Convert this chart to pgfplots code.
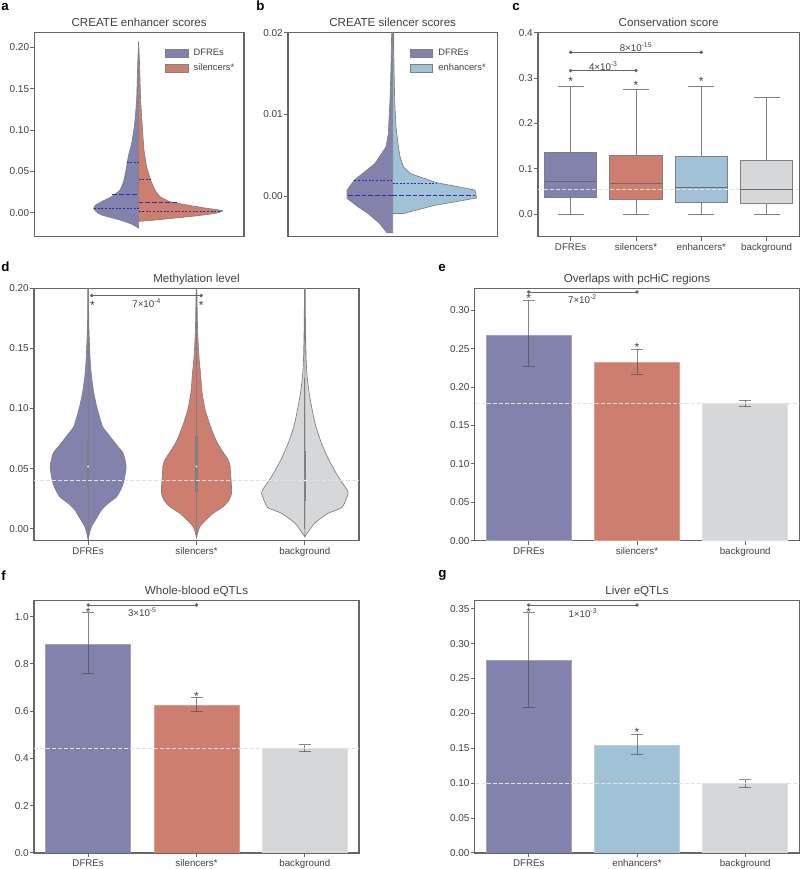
\documentclass[border=0pt]{standalone}
\usepackage{fontspec}
\setmainfont{Liberation Sans}
\usepackage{pgfplots}
\usepackage{pgfplotstable}
\pgfplotsset{compat=1.18}

\definecolor{cdfre}{HTML}{8382AC}
\definecolor{csil}{HTML}{CE7E6F}
\definecolor{cenh}{HTML}{A1C2D6}
\definecolor{cbg}{HTML}{D6D7D9}
\definecolor{edge}{HTML}{808080}
\definecolor{frame}{HTML}{666666}
\definecolor{txt}{HTML}{404040}
\definecolor{inner}{HTML}{2B2BB0}
\definecolor{hl}{HTML}{E2E2E2}

% half-width in picture units, y in data units
\pgfplotstableread{
y w
-0.0186 0
-0.0137 22
-0.0089 56
-0.0028 111
0.0015 128
0.0053 135
0.0095 128
0.0133 111
0.0194 81
0.0275 56
0.0396 44
0.0558 36
0.0679 31
0.0840 21
0.1042 13
0.1366 6
0.1770 3
0.2073 0
}\adfre
\pgfplotstableread{
y w
-0.0105 0
-0.0097 29
-0.0069 100
-0.0040 170
-0.0008 230
0.0024 252
0.0053 204
0.0093 144
0.0133 94
0.0194 64
0.0275 49
0.0396 36
0.0558 24
0.0760 16
0.1042 11
0.1366 6
0.1770 3
0.2073 0
}\asil
\pgfplotstableread{
y w
-0.00451 0
-0.00451 17
-0.00333 40
-0.00211 75
-0.00130 105
-0.00028 137
0.00073 137
0.00195 115
0.00398 53
0.00602 20
0.00764 13
0.01171 8
0.01577 5
0.02000 3
0.02000 0
}\bdfre
\pgfplotstableread{
y w
-0.00215 0
-0.00215 32
-0.00118 122
-0.00024 252
0.00073 247
0.00163 132
0.00276 52
0.00358 32
0.00480 22
0.00642 16
0.00846 10
0.01171 6
0.01577 4
0.02000 3
0.02000 0
}\benh
\pgfplotstableread{
y w
-0.0094 0
-0.0039 4
0.0017 10
0.0100 28
0.0156 40
0.0211 60
0.0267 86
0.0350 102
0.0406 108
0.0517 114
0.0628 105
0.0697 85
0.0794 58
0.0850 43
0.1000 27
0.1128 17
0.1267 10
0.1406 6
0.1683 2
0.2000 1
0.2000 0
}\ddfre
\pgfplotstableread{
y w
-0.0081 0
-0.0039 3
0.0017 10
0.0072 28
0.0128 50
0.0183 80
0.0239 98
0.0294 105
0.0350 105
0.0461 102
0.0517 101
0.0572 95
0.0656 75
0.0739 58
0.0850 42
0.0989 26
0.1128 17
0.1294 12
0.1406 8
0.1544 5
0.1683 3
0.2000 1
0.2000 0
}\dsil
\pgfplotstableread{
y w
-0.0067 0
0.0044 29
0.0128 70
0.0178 112
0.0294 130
0.0322 127
0.0433 100
0.0572 72
0.0711 50
0.0850 33
0.0989 22
0.1128 13
0.1267 7
0.1406 4
0.1683 2
0.2000 1
0.2000 0
}\dbg

\pgfplotsset{
  panel/.style={
    scale only axis,
    anchor=north west,
    axis line style={draw=frame,line width=1pt},
    tick style={draw=frame,line width=0.7pt},
    major tick length=3pt,
    tick align=outside,
    xtick pos=bottom,
    ytick pos=left,
    clip=true,
    every axis title shift=0pt,
    title style={anchor=base,yshift=4.5pt,inner sep=0pt,text=txt,font=\fontsize{8.7}{10}\selectfont},
    tick label style={text=txt,font=\fontsize{7.5}{9}\selectfont,inner sep=0.7pt},
    y tick label style={/pgf/number format/assume math mode=true,/pgf/number format/fixed,/pgf/number format/fixed zerofill},
    x tick label style={text height=1.5ex,text depth=0.3ex,yshift=1.6pt,font=\fontsize{7.3}{9}\selectfont},
    scaled y ticks=false,
    legend cell align=left,
    legend image code/.code={\fill[##1] (0pt,-3pt) rectangle (15pt,3pt);},
    legend style={draw=none,fill=none,anchor=north west,font=\fontsize{7}{8.5}\selectfont,text=txt,
      inner sep=0pt,row sep=1pt,column sep=2pt},
  },
  vio/.style={fill=#1,draw=edge,line width=0.5pt,smooth,tension=0.35},
  brk/.style={draw=frame,line width=0.5pt,mark=*,mark size=1.05pt,mark options={fill=frame,draw=frame,solid}},
  hline/.style={draw=hl,line width=0.6pt,dash pattern=on 3pt off 1.5pt,forget plot},
  bar/.style={ybar,bar width=0.785,bar shift=0pt,draw=#1!75!white,line width=0.5pt,fill=#1,
    error bars/.cd,y dir=both,y explicit,
    error bar style={draw=black!70,line width=0.75pt,opacity=0.65},
    error mark options={draw=black!70,line width=0.75pt,opacity=0.65,mark size=4.5pt,rotate=90}},
  box/.style={fill=#1,draw=edge,line width=0.7pt},
  wh/.style={draw=edge,line width=0.7pt},
  med/.style={draw=black!58,line width=0.7pt},
  q/.style={draw=inner,line width=0.55pt,dash pattern=on 1.5pt off 1.2pt},
  m/.style={draw=inner,line width=0.55pt,dash pattern=on 3.5pt off 1.5pt},
  stick/.style={draw=edge,line width=0.7pt},
  ibox/.style={draw=edge,line width=2pt},
  mdot/.style={only marks,white,mark=*,mark size=0.45pt},
}
\newcommand{\ann}{\fontsize{7.3}{9}\selectfont\color{txt}}
\newcommand{\st}{\fontsize{9}{9}\selectfont\color{txt}*}
\tikzset{letter/.style={anchor=base west,inner sep=0pt,font=\fontsize{10}{12}\selectfont\bfseries,text=black},
  star/.style={inner sep=0pt,yshift=-1.9pt}}

\begin{document}
\begin{tikzpicture}
\useasboundingbox (0,0) rectangle (600pt,-651.75pt);

\node[letter] at (0.8pt,-8pt) {a};
\node[letter] at (192pt,-8pt) {b};
\node[letter] at (384pt,-8pt) {c};
\node[letter] at (0.8pt,-203.8pt) {d};
\node[letter] at (328.5pt,-203.8pt) {e};
\node[letter] at (0.8pt,-435.5pt) {f};
\node[letter] at (328.5pt,-433.2pt) {g};

% a
\begin{axis}[panel,at={(25.7pt,-24.5pt)},width=157.3pt,height=153pt,
  title={CREATE enhancer scores},
  xmin=-313,xmax=316,ymin=-0.0291,ymax=0.218,
  xtick=\empty,ytick={0,0.05,0.1,0.15,0.2},
  y tick label style={/pgf/number format/precision=2},
  legend style={at={(0.622,0.935)}}]
\addplot[vio=cdfre,area legend] table[x expr=-\thisrow{w},y=y] {\adfre} --cycle;
\addlegendentry{DFREs}
\addplot[vio=csil,area legend] table[x=w,y=y] {\asil} --cycle;
\addlegendentry{silencers*}
\addplot[q,forget plot] coordinates {(-36,0.061) (0,0.061)};
\addplot[m,forget plot] coordinates {(-79,0.0222) (0,0.0222)};
\addplot[q,forget plot] coordinates {(-133,0.0053) (0,0.0053)};
\addplot[q,forget plot] coordinates {(0,0.0404) (36,0.0404)};
\addplot[m,forget plot] coordinates {(0,0.0125) (114,0.0125)};
\addplot[q,forget plot] coordinates {(0,0.002) (244,0.002)};
\end{axis}

% b
\begin{axis}[panel,at={(216pt,-24.5pt)},width=157pt,height=153pt,
  title={CREATE silencer scores},
  xmin=-314,xmax=314,ymin=-0.00498,ymax=0.02,
  xtick=\empty,ytick={0,0.01,0.02},
  y tick label style={/pgf/number format/precision=2},
  legend style={at={(0.58,0.935)}}]
\addplot[fill=cdfre,draw=edge,line width=0.5pt,area legend] table[x expr=-\thisrow{w},y=y] {\bdfre} --cycle;
\addlegendentry{DFREs}
\addplot[fill=cenh,draw=edge,line width=0.5pt,area legend] table[x=w,y=y] {\benh} --cycle;
\addlegendentry{enhancers*}
\addplot[q,forget plot] coordinates {(-115,0.0019) (0,0.0019)};
\addplot[m,forget plot,line width=0.7pt] coordinates {(-133,0.0001) (0,0.0001)};
\addplot[q,forget plot] coordinates {(0,0.00155) (132,0.00155)};
\addplot[m,forget plot,line width=0.7pt] coordinates {(0,0.00005) (247,0.00005)};
\end{axis}

% c
\begin{axis}[panel,at={(403.5pt,-24.5pt)},width=196pt,height=153pt,
  title={Conservation score},
  xmin=-0.5,xmax=3.5,ymin=-0.05,ymax=0.4,
  xtick={0,1,2,3},xticklabels={DFREs,silencers*,enhancers*,background},
  ytick={0,0.1,0.2,0.3,0.4},
  y tick label style={/pgf/number format/precision=1}]
% whiskers and caps
\addplot[wh] coordinates {(0,0) (0,0.281)};
\addplot[wh] coordinates {(-0.2,0) (0.2,0)};
\addplot[wh] coordinates {(-0.2,0.281) (0.2,0.281)};
\addplot[wh] coordinates {(1,0) (1,0.2746)};
\addplot[wh] coordinates {(0.8,0) (1.2,0)};
\addplot[wh] coordinates {(0.8,0.2746) (1.2,0.2746)};
\addplot[wh] coordinates {(2,0) (2,0.2805)};
\addplot[wh] coordinates {(1.8,0) (2.2,0)};
\addplot[wh] coordinates {(1.8,0.2805) (2.2,0.2805)};
\addplot[wh] coordinates {(3,0) (3,0.2577)};
\addplot[wh] coordinates {(2.8,0) (3.2,0)};
\addplot[wh] coordinates {(2.8,0.2577) (3.2,0.2577)};
% boxes and medians
\addplot[box=cdfre] coordinates {(-0.4,0.0375) (0.4,0.0375) (0.4,0.135) (-0.4,0.135)} --cycle;
\addplot[med] coordinates {(-0.4,0.072) (0.4,0.072)};
\addplot[box=csil] coordinates {(0.6,0.033) (1.4,0.033) (1.4,0.13) (0.6,0.13)} --cycle;
\addplot[med] coordinates {(0.6,0.0675) (1.4,0.0675)};
\addplot[box=cenh] coordinates {(1.6,0.0264) (2.4,0.0264) (2.4,0.1278) (1.6,0.1278)} --cycle;
\addplot[med] coordinates {(1.6,0.0595) (2.4,0.0595)};
\addplot[box=cbg] coordinates {(2.6,0.0242) (3.4,0.0242) (3.4,0.118) (2.6,0.118)} --cycle;
\addplot[hline] coordinates {(-0.5,0.055) (3.5,0.055)};
\addplot[med] coordinates {(2.6,0.055) (3.4,0.055)};
\addplot[brk] coordinates {(0,0.3568) (2,0.3568)};
\addplot[brk] coordinates {(0,0.3164) (1,0.3164)};
\node[inner sep=0pt] at (axis cs:1,0.367) {\ann 8×10\textsuperscript{-15}};
\node[inner sep=0pt] at (axis cs:0.5,0.326) {\ann 4×10\textsuperscript{-3}};
\node[star] at (axis cs:0,0.298) {\st};
\node[star] at (axis cs:1,0.29) {\st};
\node[star] at (axis cs:2,0.298) {\st};
\end{axis}

% d
\begin{axis}[panel,at={(25.5pt,-216.2pt)},width=243.75pt,height=189.3pt,
  title={Methylation level},
  xmin=-0.5,xmax=2.5,ymin=-0.01,ymax=0.2,
  xtick={0,1,2},xticklabels={DFREs,silencers*,background},
  ytick={0,0.05,0.1,0.15,0.2},
  y tick label style={/pgf/number format/precision=2}]
\addplot[vio=cdfre] table[x expr=\thisrow{w}/325,y=y] {\ddfre} --cycle;
\addplot[vio=cdfre] table[x expr=-\thisrow{w}/325,y=y] {\ddfre} --cycle;
\addplot[vio=csil] table[x expr=1+\thisrow{w}/325,y=y] {\dsil} --cycle;
\addplot[vio=csil] table[x expr=1-\thisrow{w}/325,y=y] {\dsil} --cycle;
\addplot[vio=cbg] table[x expr=2+\thisrow{w}/325,y=y] {\dbg} --cycle;
\addplot[vio=cbg] table[x expr=2-\thisrow{w}/325,y=y] {\dbg} --cycle;
\addplot[stick] coordinates {(0,-0.0094) (0,0.2)};
\addplot[stick] coordinates {(1,-0.0039) (1,0.2)};
\addplot[stick] coordinates {(2,0) (2,0.125)};
\addplot[ibox] coordinates {(0,0.035) (0,0.0725)};
\addplot[ibox] coordinates {(1,0.0308) (1,0.0767)};
\addplot[ibox] coordinates {(2,0.0233) (2,0.065)};
\addplot[hline] coordinates {(-0.5,0.04) (2.5,0.04)};
\addplot[mdot] coordinates {(0,0.0517) (1,0.0517) (2,0.04)};
\addplot[brk] coordinates {(0.034,0.1939) (1.043,0.1939)};
\node[inner sep=0pt] at (axis cs:0.54,0.1875) {\ann 7×10\textsuperscript{-4}};
\node[star] at (axis cs:0.04,0.1875) {\st};
\node[star] at (axis cs:1.043,0.1875) {\st};
\end{axis}

% e
\begin{axis}[panel,at={(356pt,-216.2pt)},width=243.5pt,height=189.3pt,
  title={Overlaps with pcHiC regions},
  xmin=-0.5,xmax=2.5,ymin=0,ymax=0.3287,
  xtick={0,1,2},xticklabels={DFREs,silencers*,background},
  ytick={0,0.05,0.1,0.15,0.2,0.25,0.3},
  y tick label style={/pgf/number format/precision=2}]
\addplot[bar=cdfre] coordinates {(0,0.2675) += (0,0.0455) -= (0,0.0413)};
\addplot[bar=csil] coordinates {(1,0.2323) += (0,0.0169) -= (0,0.0156)};
\addplot[bar=cbg] coordinates {(2,0.1785) += (0,0.0043) -= (0,0.0044)};
\addplot[hline] coordinates {(-0.5,0.1785) (2.5,0.1785)};
\addplot[brk] coordinates {(0,0.3239) (1,0.3239)};
\node[inner sep=0pt] at (axis cs:0.496,0.314) {\ann 7×10\textsuperscript{-2}};
\node[star] at (axis cs:0,0.3187) {\st};
\node[star] at (axis cs:1,0.2549) {\st};
\end{axis}

% f
\begin{axis}[panel,at={(25.5pt,-450.5pt)},width=243.75pt,height=189.2pt,
  title={Whole-blood eQTLs},
  xmin=-0.5,xmax=2.5,ymin=0,ymax=1.0677,
  xtick={0,1,2},xticklabels={DFREs,silencers*,background},
  ytick={0,0.2,0.4,0.6,0.8,1},
  y tick label style={/pgf/number format/precision=1}]
\addplot[bar=cdfre] coordinates {(0,0.8815) += (0,0.1355) -= (0,0.1227)};
\addplot[bar=csil] coordinates {(1,0.6248) += (0,0.0339) -= (0,0.0268)};
\addplot[bar=cbg] coordinates {(2,0.4415) += (0,0.0169) -= (0,0.0141)};
\addplot[hline] coordinates {(-0.5,0.4415) (2.5,0.4415)};
\addplot[brk] coordinates {(0,1.0494) (1,1.0494)};
\node[inner sep=0pt] at (axis cs:0.5,1.017) {\ann 3×10\textsuperscript{-5}};
\node[star] at (axis cs:0,1.03) {\st};
\node[star] at (axis cs:1,0.6728) {\st};
\end{axis}

% g
\begin{axis}[panel,at={(356pt,-450.5pt)},width=243.5pt,height=189.2pt,
  title={Liver eQTLs},
  xmin=-0.5,xmax=2.5,ymin=0,ymax=0.3615,
  xtick={0,1,2},xticklabels={DFREs,enhancers*,background},
  ytick={0,0.05,0.1,0.15,0.2,0.25,0.3,0.35},
  y tick label style={/pgf/number format/precision=2}]
\addplot[bar=cdfre] coordinates {(0,0.2755) += (0,0.0688) -= (0,0.0668)};
\addplot[bar=cenh] coordinates {(1,0.1542) += (0,0.0158) -= (0,0.0128)};
\addplot[bar=cbg] coordinates {(2,0.0993) += (0,0.0057) -= (0,0.0057)};
\addplot[hline] coordinates {(-0.5,0.0995) (2.5,0.0995)};
\addplot[brk] coordinates {(0,0.3553) (1,0.3553)};
\node[inner sep=0pt] at (axis cs:0.5,0.344) {\ann 1×10\textsuperscript{-3}};
\node[star] at (axis cs:0,0.349) {\st};
\node[star] at (axis cs:1,0.1757) {\st};
\end{axis}
\end{tikzpicture}
\end{document}
